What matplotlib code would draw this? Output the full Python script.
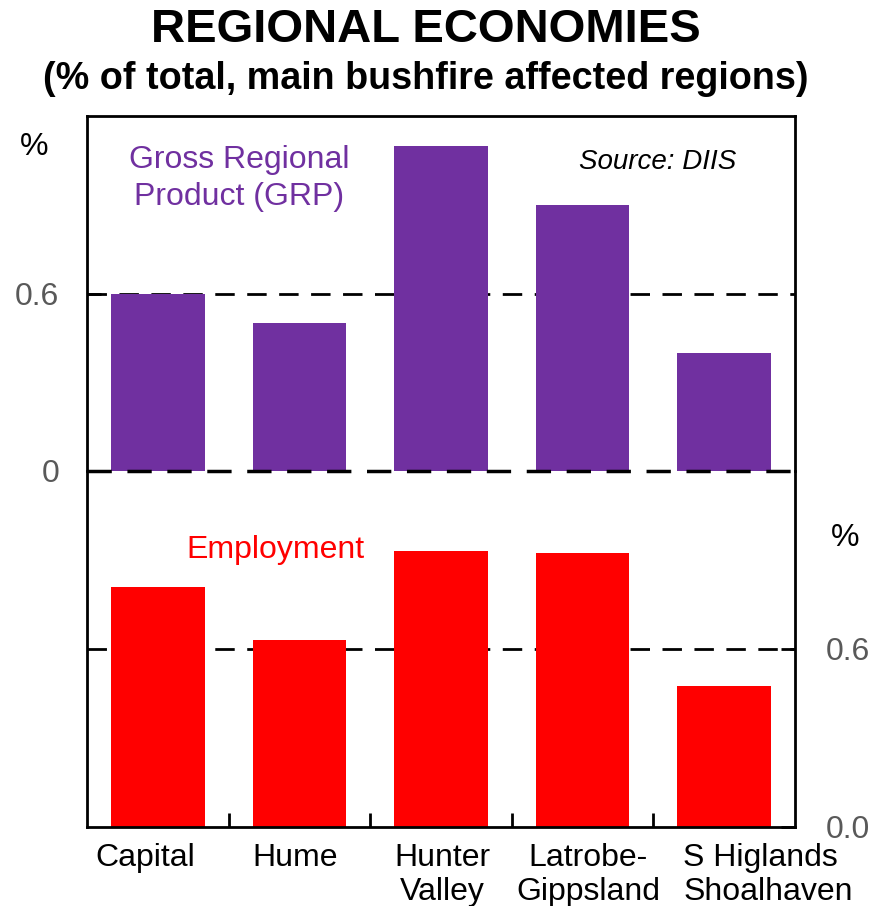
import matplotlib.pyplot as plt
import numpy as np
from matplotlib.ticker import FixedLocator

plt.rcParams['font.family'] = ['Liberation Sans', 'DejaVu Sans']

regions = ['Capital', 'Hume', 'Hunter\nValley', 'Latrobe-\nGippsland', 'S Higlands\nShoalhaven']
grp = [0.60, 0.50, 1.10, 0.90, 0.40]
employment = [0.81, 0.63, 0.93, 0.925, 0.475]

purple = '#7030a0'
red = '#ff0000'
grey = '#595959'
dash = (0, (7, 4.5))

fig = plt.figure(figsize=(8.73, 9.06), dpi=100)
L, R = 87 / 873, 795 / 873
ax1 = fig.add_axes([L, 1 - 471 / 906, R - L, (471 - 116) / 906])
ax2 = fig.add_axes([L, 1 - 827 / 906, R - L, (827 - 471) / 906])
ax2.patch.set_visible(False)

x = np.arange(len(regions))
for ax in (ax1, ax2):
    ax.set_xlim(-0.5, len(regions) - 0.5)
    ax.set_ylim(0, 1.2)
    for s in ax.spines.values():
        s.set_linewidth(2)
    ax.axhline(0.6, color='black', lw=2, ls=dash, zorder=1)

ax1.bar(x, grp, width=0.66, color=purple, zorder=2)
ax2.bar(x, employment, width=0.66, color=red, zorder=2)
ax1.axhline(0, color='black', lw=2.5, ls=dash, zorder=3, clip_on=False)

# top panel: left axis
ax1.spines['bottom'].set_visible(False)
ax1.set_xticks([])
ax1.set_yticks([0, 0.6])
ax1.set_yticklabels(['0', '0.6'])
ax1.tick_params(axis='y', direction='in', length=10, width=2, labelsize=23,
                labelcolor=grey, pad=20)

# bottom panel: right axis
ax2.spines['top'].set_visible(False)
ax2.yaxis.tick_right()
ax2.set_yticks([0, 0.6])
ax2.set_yticklabels(['0.0', '0.6'])
ax2.tick_params(axis='y', direction='in', length=10, width=2, labelsize=23,
                labelcolor=grey, pad=22)
ax2.set_xticks([])
ax2.xaxis.set_minor_locator(FixedLocator(x[:-1] + 0.5))
ax2.tick_params(axis='x', which='minor', direction='in', length=10, width=2)

# category labels, nudged like the original
nudge = [-0.09, -0.03, 0.01, 0.04, -0.29]
align = ['center', 'center', 'center', 'center', 'left']
for xi, lab, dx, ha in zip(x, regions, nudge, align):
    ax2.text(xi + dx, -0.045, lab, transform=ax2.get_xaxis_transform(),
             ha=ha, va='top', fontsize=23, linespacing=1.18, multialignment=ha)

fig.text(0.488, 1 - 30 / 906, 'REGIONAL ECONOMIES', ha='center', va='center',
         fontsize=34, fontweight='bold')
fig.text(0.488, 1 - 79 / 906, '(% of total, main bushfire affected regions)',
         ha='center', va='center', fontsize=27.2, fontweight='bold')
fig.text(34 / 873, 1 - 147 / 906, '%', ha='center', va='center', fontsize=23)
fig.text(845 / 873, 1 - 538 / 906, '%', ha='center', va='center', fontsize=23)

ax1.text(0.573, 0.99, 'Gross Regional\nProduct (GRP)', ha='center', va='center',
         fontsize=23, color=purple, linespacing=1.3)
ax1.text(3.53, 1.045, 'Source: DIIS', ha='center', va='center', fontsize=20,
         style='italic')
ax2.text(0.83, 0.935, 'Employment', ha='center', va='center', fontsize=23, color=red)

fig.savefig('out.png', dpi=100)
